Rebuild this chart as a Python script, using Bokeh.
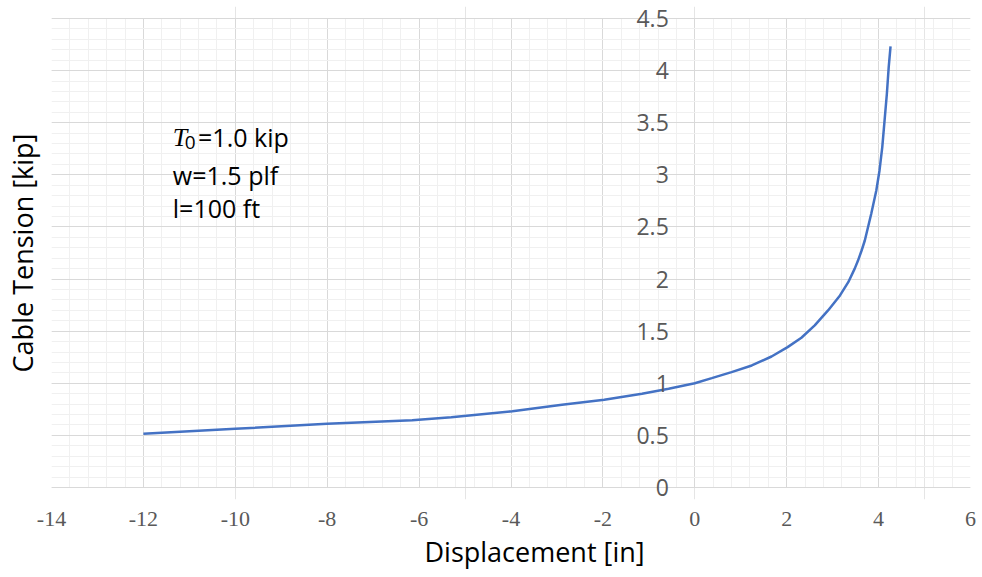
from bokeh.plotting import figure
from bokeh.models import (LinearAxis, SingleIntervalTicker, Label, Title, Grid,
                          PrintfTickFormatter)
from bokeh.embed import file_html
from bokeh.resources import INLINE

# ---- data ----
displacement = [-12.0, -10.0, -8.0, -6.15, -5.3, -3.97, -2.89, -1.97, -1.15, -0.57, 0.0,
                0.37, 0.80, 1.24, 1.67, 2.02, 2.32, 2.61, 2.90, 3.16, 3.34, 3.48, 3.55,
                3.63, 3.70, 3.84, 3.95, 4.02, 4.08, 4.13, 4.18, 4.22, 4.26]
tension = [0.515, 0.563, 0.611, 0.646, 0.675, 0.732, 0.793, 0.842, 0.899, 0.947, 1.0,
           1.049, 1.107, 1.171, 1.257, 1.347, 1.437, 1.555, 1.699, 1.843, 1.970, 2.10, 2.175,
           2.274, 2.370, 2.627, 2.850, 3.042, 3.266, 3.522, 3.778, 4.034, 4.232]
x_limits = (-14, 6)
y_limits = (0, 4.5)
x_label = "Displacement [in]"
y_label = "Cable Tension [kip]"
notes = ["=1.0 kip", "w=1.5 plf", "l=100 ft"]

GRID_MAJOR = "#d9d9d9"
GRID_MINOR = "#f0f0f0"
TICK_COLOR = "#595959"

# a little room above/below so the crossing axis' end labels are not clipped
pad = 0.1152
p = figure(width=982, height=577, x_range=x_limits,
           y_range=(y_limits[0] - pad, y_limits[1] + pad),
           output_backend="svg", toolbar_location=None,
           min_border_left=49, min_border_right=12, min_border_top=6,
           min_border_bottom=78, y_axis_location=None, x_axis_location=None)
p.outline_line_color = None
p.background_fill_color = "white"
p.border_fill_color = "white"

yticker = SingleIntervalTicker(interval=0.5, num_minor_ticks=5)
xticker = SingleIntervalTicker(interval=2, num_minor_ticks=5)

# grids (bounded to the data box)
gx = Grid(dimension=0, ticker=xticker, grid_line_color=GRID_MAJOR,
          minor_grid_line_color=GRID_MINOR, cross_bounds=y_limits, level="underlay")
gy = Grid(dimension=1, ticker=yticker, grid_line_color=GRID_MAJOR,
          minor_grid_line_color=GRID_MINOR, bounds=y_limits, level="underlay")
p.add_layout(gx)
p.add_layout(gy)

# y axis crossing at x = 0 (its line is the x = 0 grid line)
yax = LinearAxis(ticker=yticker, fixed_location=0)
yax.axis_line_color = None
yax.major_tick_line_color = None
yax.minor_tick_line_color = None
yax.major_label_text_font = "Open Sans"
yax.major_label_text_font_size = "23px"
yax.major_label_text_color = TICK_COLOR
yax.major_label_standoff = 20
p.add_layout(yax, "left")

# label-only axis on the left
ylab = LinearAxis(ticker=SingleIntervalTicker(interval=0.5), axis_label=y_label)
ylab.axis_line_color = None
ylab.major_tick_line_color = None
ylab.minor_tick_line_color = None
ylab.major_label_text_font_size = "0px"
ylab.major_label_standoff = 0
ylab.axis_label_standoff = 5
ylab.axis_label_text_font = "Open Sans"
ylab.axis_label_text_font_style = "normal"
ylab.axis_label_text_font_size = "27px"
ylab.axis_label_text_color = "black"
p.add_layout(ylab, "left")

# x axis (its line is the y = 0 grid line)
xax = LinearAxis(ticker=xticker, formatter=PrintfTickFormatter(format="%d"))
xax.axis_line_color = None
xax.major_tick_line_color = None
xax.minor_tick_line_color = None
xax.major_label_text_font = "Liberation Serif"
xax.major_label_text_font_size = "22px"
xax.major_label_text_color = TICK_COLOR
xax.major_label_standoff = 6
p.add_layout(xax, "below")

xt = Title(text=x_label, align="left", offset=373, text_font="Open Sans",
           text_font_style="normal", text_font_size="27px", text_color="black",
           standoff=4)
p.add_layout(xt, "below")

p.line(displacement, tension, line_color="#4472C4", line_width=2.5)

# annotation text
p.add_layout(Label(x=-11.36, y=3.359, text="T", text_font="Liberation Serif",
                   text_font_style="italic", text_font_size="26px",
                   text_color="black", text_baseline="alphabetic"))
p.add_layout(Label(x=-11.10, y=3.311, text="0", text_font="Open Sans",
                   text_font_size="19px", text_color="black",
                   text_baseline="alphabetic"))
p.add_layout(Label(x=-10.81, y=3.359, text=notes[0], text_font="Open Sans",
                   text_font_size="25px", text_color="black",
                   text_baseline="alphabetic"))
p.add_layout(Label(x=-11.36, y=2.994, text=notes[1], text_font="Open Sans",
                   text_font_size="25px", text_color="black",
                   text_baseline="alphabetic"))
p.add_layout(Label(x=-11.36, y=2.678, text=notes[2], text_font="Open Sans",
                   text_font_size="25px", text_color="black",
                   text_baseline="alphabetic"))

open("out.html", "w").write(file_html(p, INLINE))
